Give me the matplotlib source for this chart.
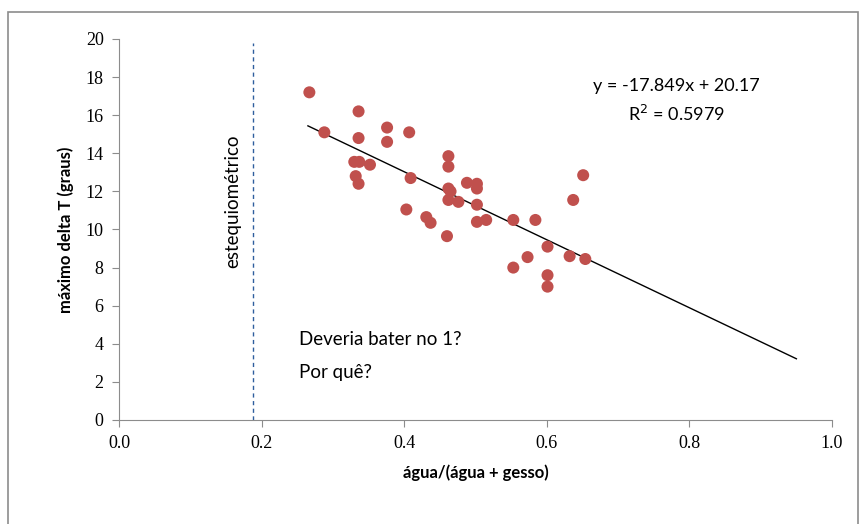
# Razao agua/(agua + gesso) versus maximo delta T
import numpy as np
import matplotlib.pyplot as plt
from matplotlib.patches import Rectangle

# data
razao = [0.267, 0.288, 0.336, 0.336, 0.376, 0.376, 0.407, 0.330, 0.337, 0.352,
         0.332, 0.336, 0.409, 0.403, 0.431, 0.437, 0.460, 0.462, 0.462, 0.462,
         0.465, 0.462, 0.476, 0.488, 0.502, 0.502, 0.502, 0.502, 0.515, 0.553,
         0.584, 0.601, 0.573, 0.553, 0.601, 0.601, 0.632, 0.654, 0.637, 0.651]
delta_t = [17.2, 15.1, 16.2, 14.8, 15.35, 14.6, 15.1, 13.55, 13.55, 13.4,
           12.8, 12.4, 12.7, 11.05, 10.65, 10.35, 9.65, 13.85, 13.3, 12.15,
           12.0, 11.55, 11.45, 12.45, 12.4, 12.15, 11.3, 10.4, 10.5, 10.5,
           10.5, 9.1, 8.55, 8.0, 7.6, 7.0, 8.6, 8.45, 11.55, 12.85]

# linear trendline as printed on the chart
slope = -17.849
intercept = 20.17
r2 = 0.5979
trend_x = [0.265, 0.95]

esteq_x = 0.188

x_ticks = [0.0, 0.2, 0.4, 0.6, 0.8, 1.0]
y_ticks = [0, 2, 4, 6, 8, 10, 12, 14, 16, 18, 20]

sans = ['Lato', 'DejaVu Sans']
serif = ['Liberation Serif', 'DejaVu Serif']

fig = plt.figure(figsize=(8.64, 5.24), dpi=100)
ax = fig.add_axes([0.1377, 0.1985, 0.8253, 0.7271])

# outer chart frame (runs past the bottom edge like in the screenshot)
fig.patches.append(Rectangle((8 / 864, -0.05), 850 / 864, 1.05 - 12 / 524,
                             transform=fig.transFigure, fill=False,
                             edgecolor='#8c8c8c', linewidth=1.2))

ax.scatter(razao, delta_t, s=75, color='#C0504D', edgecolors='none', zorder=3)

tx = np.array(trend_x)
ax.plot(tx, slope * tx + intercept, color='black', linewidth=1.0, zorder=2)

ax.plot([esteq_x, esteq_x], [0, 19.8], color='#2E5E9E', linewidth=1.0,
        linestyle=(0, (3, 2.5)), zorder=1)

ax.set_xlim(0, 1.0)
ax.set_ylim(0, 20)
ax.set_xticks(x_ticks)
ax.set_yticks(y_ticks)
ax.set_xticklabels(['%.1f' % v for v in x_ticks], family=serif, fontsize=13)
ax.set_yticklabels([str(v) for v in y_ticks], family=serif, fontsize=13)

for side in ['top', 'right']:
    ax.spines[side].set_visible(False)
for side in ['left', 'bottom']:
    ax.spines[side].set_color('#8c8c8c')
ax.tick_params(direction='out', length=5, color='#8c8c8c', pad=6)

ax.set_xlabel('água/(água + gesso)', family=sans, fontsize=12, fontweight='bold',
              labelpad=9)
ax.set_ylabel('máximo delta T (graus)', family=sans, fontsize=12, fontweight='bold',
              labelpad=8)

ax.text(0.782, 17.55, 'y = -17.849x + 20.17', family=sans, fontsize=13,
        ha='center', va='center')
ax.text(0.782, 16.05, 'R$^2$ = %.4f' % r2, family=sans, fontsize=13,
        ha='center', va='center')

ax.text(0.159, 11.5, 'estequiométrico', family=sans, fontsize=13.5,
        rotation=90, ha='center', va='center')

ax.text(0.253, 4.2, 'Deveria bater no 1?', family=sans, fontsize=13.5,
        ha='left', va='center')
ax.text(0.253, 2.5, 'Por quê?', family=sans, fontsize=13.5,
        ha='left', va='center')

plt.savefig('out.png', dpi=100)
